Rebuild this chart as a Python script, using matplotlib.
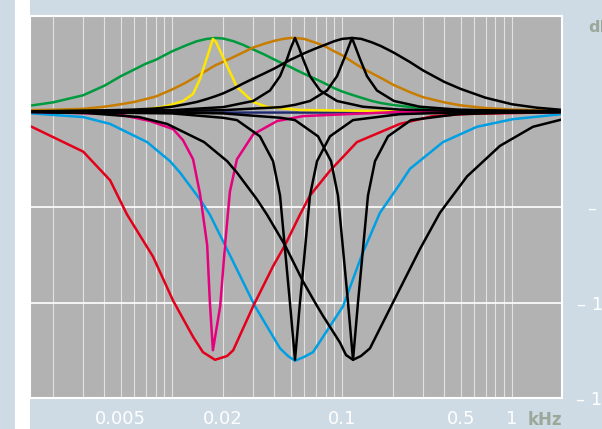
import matplotlib
matplotlib.use('Agg')
import matplotlib.pyplot as plt
from matplotlib.patches import Rectangle
from matplotlib.ticker import FixedLocator, LogLocator, NullFormatter

# frequencies in kHz, gains in dB
freq_grid = [0.0014, 0.002, 0.003, 0.004, 0.005, 0.006, 0.007, 0.008, 0.01, 0.012,
             0.014, 0.016, 0.018, 0.02, 0.023, 0.026, 0.03, 0.035, 0.04, 0.045,
             0.05, 0.053, 0.06, 0.07, 0.08, 0.09, 0.1, 0.115, 0.13, 0.15,
             0.17, 0.2, 0.25, 0.3, 0.4, 0.5, 0.7, 1.0, 1.4, 2.0]
green_db = [0.28, 0.48, 0.85, 1.35, 1.85, 2.2, 2.5, 2.7, 3.15, 3.45,
            3.68, 3.8, 3.85, 3.82, 3.68, 3.5, 3.25, 2.98, 2.72, 2.5,
            2.32, 2.2, 1.97, 1.7, 1.45, 1.22, 1.05, 0.87, 0.72, 0.55,
            0.44, 0.34, 0.24, 0.17, 0.1, 0.07, 0.04, 0.02, 0.01, 0.01]
orange_db = [0.07, 0.09, 0.14, 0.25, 0.38, 0.5, 0.65, 0.78, 1.15, 1.5,
             1.85, 2.15, 2.42, 2.6, 2.85, 3.08, 3.35, 3.55, 3.7, 3.8,
             3.85, 3.85, 3.8, 3.6, 3.4, 3.15, 2.95, 2.6, 2.3, 2.0,
             1.75, 1.4, 1.02, 0.75, 0.48, 0.32, 0.18, 0.1, 0.06, 0.03]
peak_wide_db = [0.01, 0.02, 0.04, 0.06, 0.08, 0.1, 0.13, 0.16, 0.25, 0.38,
                0.5, 0.65, 0.8, 0.95, 1.2, 1.45, 1.72, 2.0, 2.25, 2.5,
                2.72, 2.82, 3.05, 3.3, 3.5, 3.68, 3.8, 3.85, 3.8, 3.62,
                3.42, 3.1, 2.6, 2.15, 1.55, 1.18, 0.72, 0.38, 0.2, 0.08]

yellow_freq = [0.0014, 0.00675, 0.00935, 0.0116, 0.0133, 0.0146, 0.0161, 0.0174,
               0.01815, 0.0211, 0.0241, 0.030, 0.0362, 0.0566, 0.219, 2.0]
yellow_db = [0.01, 0.08, 0.29, 0.55, 0.92, 1.7, 2.85, 3.8,
             3.64, 2.38, 1.28, 0.5, 0.24, 0.08, 0.01, 0.0]

peak_n1_freq = [0.0014, 0.01, 0.02, 0.030, 0.0377, 0.0432, 0.0475, 0.0501, 0.0529,
                0.0558, 0.059, 0.0648, 0.0743, 0.0935, 0.1329, 0.219, 0.432, 2.0]
peak_n1_db = [0.01, 0.07, 0.23, 0.55, 1.1, 1.85, 2.75, 3.35, 3.85,
              3.35, 2.75, 1.85, 1.1, 0.55, 0.25, 0.1, 0.04, 0.01]

peak_n2_freq = [0.0014, 0.01, 0.02, 0.0438, 0.0529, 0.0648, 0.0816, 0.0935, 0.1027, 0.1085,
                0.1145, 0.1209, 0.1276, 0.1403, 0.1606, 0.2022, 0.2876, 0.4748, 0.935, 2.0]
peak_n2_db = [0.01, 0.03, 0.07, 0.23, 0.35, 0.55, 1.1, 1.85, 2.75, 3.3,
              3.85, 3.3, 2.75, 1.85, 1.1, 0.55, 0.25, 0.1, 0.04, 0.02]

red_freq = [0.0014, 0.003, 0.00432, 0.00544, 0.00773, 0.01014, 0.0133, 0.0152, 0.0179, 0.0211, 0.0229,
            0.030, 0.0393, 0.0462, 0.0566, 0.0648, 0.085, 0.1225, 0.219, 0.343, 0.544, 2.0]
red_db = [-0.68, -2.1, -3.6, -5.4, -7.6, -9.9, -11.8, -12.6, -13.0, -12.8, -12.5,
          -10.2, -8.1, -7.0, -5.4, -4.4, -3.1, -1.6, -0.65, -0.24, -0.13, -0.03]

magenta_freq = [0.0014, 0.00475, 0.00743, 0.01014, 0.0116, 0.0133, 0.0146, 0.0152, 0.0161, 0.0167,
                0.0174, 0.0192, 0.0205, 0.0219, 0.0241, 0.030, 0.0415, 0.059, 0.219, 2.0]
magenta_db = [-0.02, -0.13, -0.5, -0.92, -1.5, -2.5, -4.3, -5.4, -7.0, -10.0,
              -12.5, -10.2, -7.0, -4.2, -2.5, -1.2, -0.5, -0.24, -0.02, 0.0]

blue_freq = [0.0014, 0.003, 0.00432, 0.00713, 0.00973, 0.01115, 0.0146, 0.0167, 0.0205, 0.0308,
             0.0432, 0.0481, 0.0529, 0.0598, 0.0675, 0.1014, 0.1311, 0.1673, 0.219, 0.2512,
             0.393, 0.6225, 1.014, 2.0]
blue_db = [-0.08, -0.29, -0.65, -1.6, -2.6, -3.2, -4.6, -5.4, -7.0, -10.2,
           -12.4, -12.8, -13.05, -12.85, -12.6, -10.2, -7.5, -5.3, -3.8, -3.0,
           -1.6, -0.8, -0.4, -0.13]

dip_wide_freq = [0.0014, 0.00316, 0.00639, 0.00935, 0.01543, 0.0211, 0.0241, 0.0316, 0.0362, 0.0462,
                 0.059, 0.0694, 0.0773, 0.0973, 0.1056, 0.1161, 0.1294, 0.1461, 0.1995, 0.2876,
                 0.377, 0.544, 0.85, 1.329, 2.0]
dip_wide_db = [-0.03, -0.08, -0.29, -0.65, -1.6, -2.6, -3.2, -4.6, -5.4, -7.0,
               -8.9, -10.0, -10.7, -12.1, -12.75, -13.0, -12.8, -12.4, -10.0, -7.2,
               -5.3, -3.4, -1.8, -0.8, -0.4]

dip_n1_freq = [0.0014, 0.01, 0.02, 0.0241, 0.0329, 0.0393, 0.0432, 0.0462, 0.0494, 0.0529,
               0.0566, 0.0606, 0.0648, 0.0713, 0.085, 0.1161, 0.219, 0.432, 2.0]
dip_n1_db = [-0.01, -0.1, -0.33, -0.45, -1.3, -2.6, -4.4, -7.2, -10.0, -13.0,
             -10.0, -7.2, -4.4, -2.6, -1.3, -0.45, -0.14, -0.06, -0.02]

dip_n2_freq = [0.0014, 0.01, 0.02, 0.0438, 0.0529, 0.0723, 0.0862, 0.0947, 0.1014, 0.1085,
               0.1161, 0.1242, 0.1329, 0.1422, 0.1564, 0.1865, 0.2546, 0.481, 0.947, 2.0]
dip_n2_db = [-0.01, -0.05, -0.1, -0.33, -0.45, -1.3, -2.6, -4.4, -7.2, -10.0,
             -13.0, -10.0, -7.2, -4.4, -2.6, -1.3, -0.45, -0.14, -0.06, -0.04]

flat_freq = [0.0014, 2.0]
flat_db = [0.0, 0.0]

xtick_vals = [0.005, 0.02, 0.1, 0.5, 1]
xtick_labels = ['0.005', '0.02', '0.1', '0.5', '1']
ytick_vals = [0, -5, -10, -15]
ytick_labels = ['0', '– 5', '– 10', '– 15']

plt.rcParams['font.family'] = ['DejaVu Sans']

bg = '#cedbe4'
fig = plt.figure(figsize=(6.02, 4.29), dpi=100, facecolor=bg)
fig.patches.append(Rectangle((15 / 602, 0), 15 / 602, 1, transform=fig.transFigure,
                             facecolor='white', edgecolor='none'))
ax = fig.add_axes([30 / 602, 31 / 429, 532 / 602, 382 / 429])
ax.set_facecolor('#b2b2b2')

lw = 1.8
ax.plot(flat_freq, flat_db, color='#1f2a6e', lw=lw)
ax.plot(freq_grid, green_db, color='#009a3e', lw=lw)
ax.plot(freq_grid, orange_db, color='#c87c00', lw=lw)
ax.plot(yellow_freq, yellow_db, color='#ffe600', lw=lw)
ax.plot(blue_freq, blue_db, color='#009fe3', lw=lw)
ax.plot(magenta_freq, magenta_db, color='#e5007d', lw=lw)
ax.plot(red_freq, red_db, color='#e2001a', lw=lw)
ax.plot(freq_grid, peak_wide_db, color='black', lw=lw)
ax.plot(peak_n1_freq, peak_n1_db, color='black', lw=lw)
ax.plot(peak_n2_freq, peak_n2_db, color='black', lw=lw)
ax.plot(dip_wide_freq, dip_wide_db, color='black', lw=lw)
ax.plot(dip_n1_freq, dip_n1_db, color='black', lw=lw)
ax.plot(dip_n2_freq, dip_n2_db, color='black', lw=lw)

ax.set_xscale('log')
ax.set_xlim(0.00146, 1.97)
ax.set_ylim(-15, 5)

ax.xaxis.set_major_locator(FixedLocator(xtick_vals))
ax.set_xticklabels(xtick_labels)
ax.xaxis.set_minor_locator(LogLocator(base=10, subs=range(1, 10), numticks=20))
ax.xaxis.set_minor_formatter(NullFormatter())
ax.grid(which='both', axis='x', color='#e2e2e2', lw=0.8)

ax.yaxis.tick_right()
ax.set_yticks(ytick_vals)
ax.set_yticklabels(ytick_labels)
ax.grid(which='major', axis='y', color='white', lw=1.2)
ax.set_axisbelow(True)

ax.tick_params(which='both', length=0)
ax.tick_params(axis='x', colors='white', labelsize=13, pad=8.5)
ax.tick_params(axis='y', colors='white', labelsize=13, pad=37.5)
for lab in ax.get_yticklabels():
    lab.set_horizontalalignment('right')

for s in ax.spines.values():
    s.set_color('white')
    s.set_linewidth(1.5)

fig.text(528 / 602, 1 - 425 / 429, 'kHz', color='#9aa79a', fontsize=12,
         fontweight='bold', ha='left', va='baseline')
fig.text(588 / 602, 1 - 32 / 429, 'dB', color='#9aa79a', fontsize=11.5,
         fontweight='bold', ha='left', va='baseline')

fig.savefig('out.png', dpi=100, facecolor=bg)
